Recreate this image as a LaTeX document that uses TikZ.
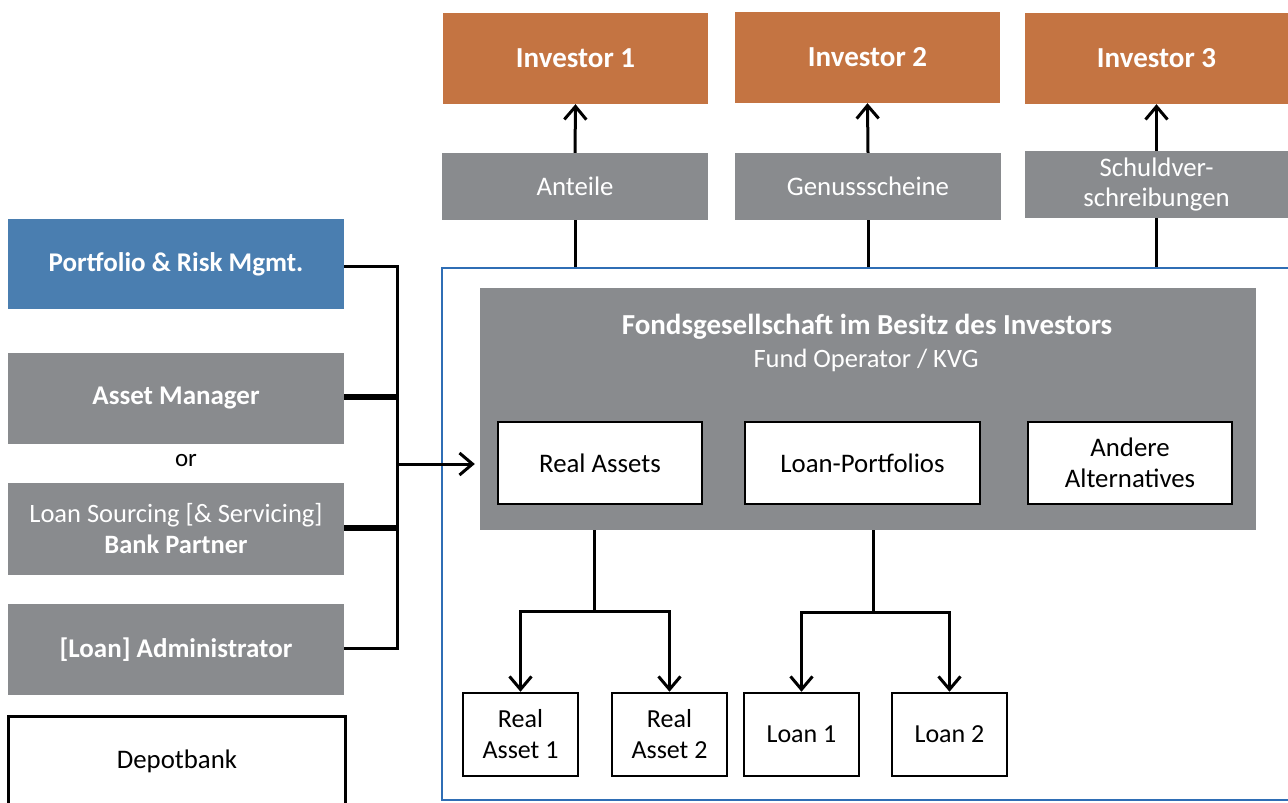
\documentclass[tikz,border=0pt]{standalone}
\usepackage{fontspec}
\setmainfont{Carlito}
\usetikzlibrary{arrows.meta}
\definecolor{invorange}{HTML}{C47442}
\definecolor{boxgrey}{HTML}{898B8E}
\definecolor{prmblue}{HTML}{4A7EB0}
\definecolor{frameblue}{HTML}{2F6EB5}
\tikzset{
  invbox/.style={fill=invorange, text=white, font=\fontsize{29}{32}\selectfont\bfseries, minimum width=265, minimum height=91, inner sep=0, align=center},
  greybox/.style={fill=boxgrey, text=white, font=\fontsize{26.8}{30}\selectfont, minimum width=266, minimum height=67, inner sep=0, align=center},
  leftbox/.style={fill=boxgrey, text=white, font=\fontsize{26.5}{31}\selectfont, minimum width=336, minimum height=91, inner sep=0, align=center},
  whitebox/.style={fill=white, draw=black, line width=2.5, text=black, font=\fontsize{26.8}{31}\selectfont, minimum height=82, inner sep=0, align=center},
  smallbox/.style={fill=white, draw=black, line width=2.5, text=black, font=\fontsize{26}{31}\selectfont, minimum width=115, minimum height=83, inner sep=0, align=center},
  conn/.style={draw=black, line width=3},
  thickconn/.style={draw=black, line width=5.5},
  arr/.style={draw=black, line width=3, -{Straight Barb[length=13,width=22,line width=3]}},
}
\begin{document}
\begin{tikzpicture}[x=1pt,y=-1pt]
\useasboundingbox (0,0) rectangle (1288,803);
% investors
\node[invbox] (inv1) at (575.5,58.5) {Investor 1};
\node[invbox] (inv2) at (867.5,57.5) {Investor 2};
\node[invbox, minimum width=263] (inv3) at (1156.5,58.5) {Investor 3};
% instruments
\node[greybox] (ant) at (575,186.5) {Anteile};
\node[greybox] (gen) at (868,186.5) {Genussscheine};
\node[greybox, minimum width=263] (sch) at (1156.5,184.5) {Schuldver-\\schreibungen};
% frame
\node[draw=frameblue, line width=2, minimum width=858, minimum height=532, inner sep=0] (frame) at (871,534) {};
% fund box
\node[fill=boxgrey, minimum width=776, minimum height=242, inner sep=0] (fonds) at (868,409) {};
\node[text=white, font=\fontsize{29}{32}\selectfont\bfseries, inner sep=0] (ftitle) at (867,327) {Fondsgesellschaft im Besitz des Investors};
\node[text=white, font=\fontsize{26.5}{31}\selectfont, inner sep=0] (fsub) at (866,360) {Fund Operator / KVG};
\node[whitebox, minimum width=204] (ra) at (600,463) {Real Assets};
\node[whitebox, minimum width=235] (lp) at (862.5,463) {Loan-Portfolios};
\node[whitebox, minimum width=204] (alt) at (1130,463) {Andere\\Alternatives};
% bottom boxes
\node[smallbox] (ra1) at (520.5,734.5) {Real\\Asset 1};
\node[smallbox] (ra2) at (669.5,734.5) {Real\\Asset 2};
\node[smallbox] (l1) at (801.5,734.5) {Loan 1};
\node[smallbox] (l2) at (949.5,734.5) {Loan 2};
% left boxes
\node[leftbox, fill=prmblue, minimum height=90, font=\fontsize{27}{31}\selectfont\bfseries] (prm) at (176,264) {Portfolio \& Risk Mgmt.};
\node[leftbox, font=\fontsize{27}{31}\selectfont\bfseries] (am) at (176,398.5) {Asset Manager};
\node[font=\fontsize{25}{30}\selectfont, inner sep=0] (or) at (186,461) {or};
\node[leftbox, minimum height=92] (ls) at (176,529) {Loan Sourcing [\& Servicing]\\\textbf{Bank Partner}};
\node[leftbox, font=\fontsize{27}{31}\selectfont\bfseries] (adm) at (176,649.5) {[Loan] Administrator};
\node[draw=black, line width=3, fill=white, minimum width=337, minimum height=94, inner sep=0] (dep) at (176.5,763) {};
\node[font=\fontsize{26.8}{31}\selectfont, inner sep=0] (deptext) at (177,761) {Depotbank};
% investor arrows
\draw[conn] (ant.south |- frame.north) -- (ant.south);
\draw[arr] (ant.north) -- (inv1.south);
\draw[conn] (gen.south |- frame.north) -- (gen.south);
\draw[arr] (gen.north) -- (inv2.south);
\draw[conn] (sch.south |- frame.north) -- (sch.south);
\draw[arr] (sch.north) -- (inv3.south);
% tree connectors
\coordinate (b1) at (594,611);
\coordinate (b2) at (873,612);
\draw[conn] (fonds.south -| b1) -- (b1);
\draw[arr] (b1) -| (ra1.north);
\draw[arr] (b1) -| (ra2.north);
\draw[conn] (fonds.south -| b2) -- (b2);
\draw[arr] (b2) -| (l1.north);
\draw[arr] (b2) -| (l2.north);
% left bus
\coordinate (bus) at (397,464);
\draw[conn] (prm.east |- 0,266) -- (397,266) -- (397,648) -- (adm.east |- 0,648);
\draw[thickconn] (am.east |- 0,397) -- (397,397);
\draw[thickconn] (ls.east |- 0,528) -- (397,528);
\draw[arr] (bus) -- ([xshift=-5] fonds.west |- bus);
\end{tikzpicture}
\end{document}
